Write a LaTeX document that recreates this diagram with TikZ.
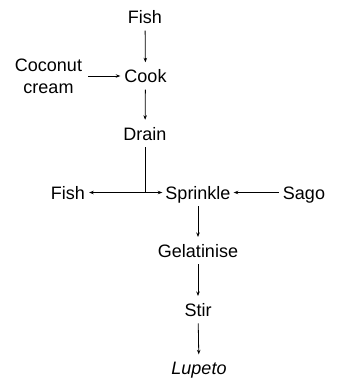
\documentclass[tikz,border=0pt]{standalone}
\usepackage{fontspec}
\setmainfont{Liberation Sans}
\usetikzlibrary{arrows.meta}
\tikzset{
  lbl/.style={font=\fontsize{18}{22}\selectfont, text height=13pt, text depth=0pt, inner xsep=4pt, inner ysep=7pt},
  multi/.style={font=\fontsize{18}{22}\selectfont, align=center, inner xsep=6pt, inner ysep=2pt},
  conn/.style={line width=0.8pt, -{Stealth[length=4.5pt,width=3.5pt]}},
  plain/.style={line width=0.8pt}
}
\begin{document}
\begin{tikzpicture}[x=1pt,y=-1pt]
\useasboundingbox (0,0) rectangle (338,378);
\node[lbl] (fish1) at (145,17) {Fish};
\node[lbl] (cook) at (145.5,76) {Cook};
\node[multi] (coco) at (48.5,76) {Coconut\\cream};
\node[lbl] (drain) at (145,133.5) {Drain};
\node[lbl] (fish2) at (68,192.5) {Fish};
\node[lbl, inner xsep=3pt] (sprinkle) at (198,192.5) {Sprinkle};
\node[lbl] (sago) at (304,192.5) {Sago};
\node[lbl] (gel) at (198,250.7) {Gelatinise};
\node[lbl] (stir) at (198,309.7) {Stir};
\node[lbl] (lupeto) at (199,368) {\itshape Lupeto};
\draw[conn] (fish1) -- (cook);
\draw[conn] (coco) -- (cook);
\draw[conn] (cook) -- (drain);
\coordinate (br) at (drain |- sprinkle);
\draw[plain] (drain.south) -- (br);
\draw[conn] (br) -- (fish2);
\draw[conn] (br) -- (sprinkle);
\draw[conn] (sago) -- (sprinkle);
\draw[conn] (sprinkle) -- (gel);
\draw[conn] (gel) -- (stir);
\draw[conn] (stir) -- (lupeto);
\end{tikzpicture}
\end{document}
